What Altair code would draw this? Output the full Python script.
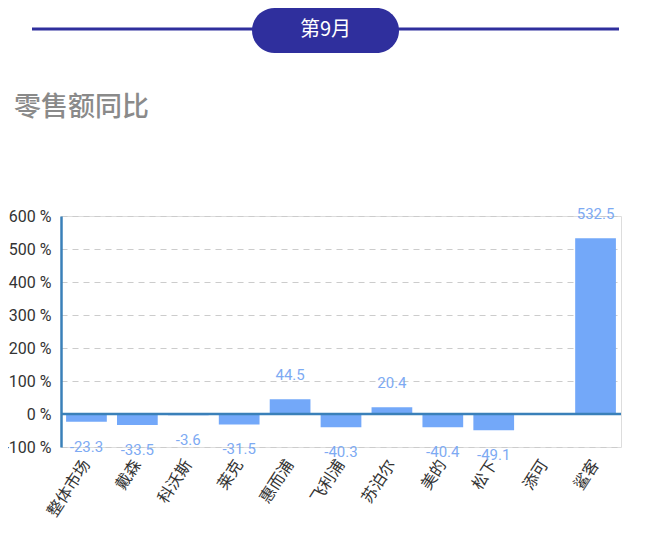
import altair as alt
import pandas as pd

brands = ["整体市场", "戴森", "科沃斯", "莱克", "惠而浦", "飞利浦", "苏泊尔", "美的", "松下", "添可", "鲨客"]
yoy = [-23.3, -33.5, -3.6, -31.5, 44.5, -40.3, 20.4, -40.4, -49.1, None, 532.5]
y_ticks = [-100, 0, 100, 200, 300, 400, 500, 600]

header_text = "第9月"
title_text = "零售额同比"

FONT = "Roboto, 'Noto Sans CJK SC', sans-serif"
CJK = "'Noto Sans CJK SC', sans-serif"
W, H = 560, 231

df = pd.DataFrame({"brand": brands, "yoy": yoy})
one = pd.DataFrame({"a": [0]})

xaxis = alt.Axis(title=None, labelAngle=-57, labelAlign="right", labelBaseline="middle",
                 labelFontSize=16, labelFont=CJK, labelColor="#333333",
                 labelPadding=14, ticks=False, domain=False, grid=False,
                 labelOverlap=False)
xscale = alt.Scale(paddingInner=0.2, paddingOuter=0.1)
yscale = alt.Scale(domain=[-100, 600], nice=False)
yaxis = alt.Axis(title=None, values=y_ticks, labelExpr="datum.value + ' %'",
                 labelFontSize=16, labelFont=FONT, labelColor="#333333",
                 labelPadding=10, ticks=False, labelOverlap=False,
                 domainColor="#3a80b9", domainWidth=2.5,
                 gridColor="#cccccc", gridDash=[6, 5], gridWidth=1.2)

X = alt.X("brand:N", sort=brands, scale=xscale, axis=xaxis)
Y = alt.Y("yoy:Q", scale=yscale, axis=yaxis)

base = alt.Chart(df).transform_calculate(lbl="'' + datum.yoy")

bars = base.mark_bar(color="#73a8f9").encode(x=X, y=Y)

zero = alt.Chart(one).mark_rule(color="#3a80b9", strokeWidth=2.5).encode(
    y=alt.datum(0, scale=yscale, axis=yaxis)
)

pos_lbl = base.transform_filter("datum.yoy > 0").mark_text(
    dy=-24, fontSize=15, font=FONT, color="#7daaf3", baseline="middle"
).encode(x=X, y=Y, text="lbl:N")

neg_lbl = base.transform_filter("datum.yoy < 0").mark_text(
    dy=25, fontSize=15, font=FONT, color="#7daaf3", baseline="middle"
).encode(x=X, y=Y, text="lbl:N")

# header decorations
hline = alt.Chart(one).mark_rule(color="#2f2f9d", strokeWidth=3).encode(
    x=alt.value(-29), x2=alt.value(558), y=alt.value(-187)
)
pill = alt.Chart(one).mark_rect(color="#2f2f9d", cornerRadius=23).encode(
    x=alt.value(191), x2=alt.value(338), y=alt.value(-208), y2=alt.value(-163)
)
htext = alt.Chart(one).mark_text(color="white", fontSize=20, font=CJK, align="center",
                                 baseline="middle").encode(
    x=alt.value(264.5), y=alt.value(-186), text=alt.value(header_text)
)
ttext = alt.Chart(one).mark_text(color="#8a8a8a", fontSize=27, font=CJK, fontWeight=500,
                                 align="left", baseline="middle").encode(
    x=alt.value(-47), y=alt.value(-108), text=alt.value(title_text)
)

chart = alt.layer(bars, zero, pos_lbl, neg_lbl, hline, pill, htext, ttext).properties(
    width=W, height=H,
    autosize=alt.AutoSizeParams(type="none"),
    padding={"left": 53, "top": 208, "right": 21, "bottom": 82},
).configure_view(stroke="#cccccc", strokeWidth=1.5).configure(background="white")

chart.save("out.html", embed_options={"renderer": "svg", "actions": False})
